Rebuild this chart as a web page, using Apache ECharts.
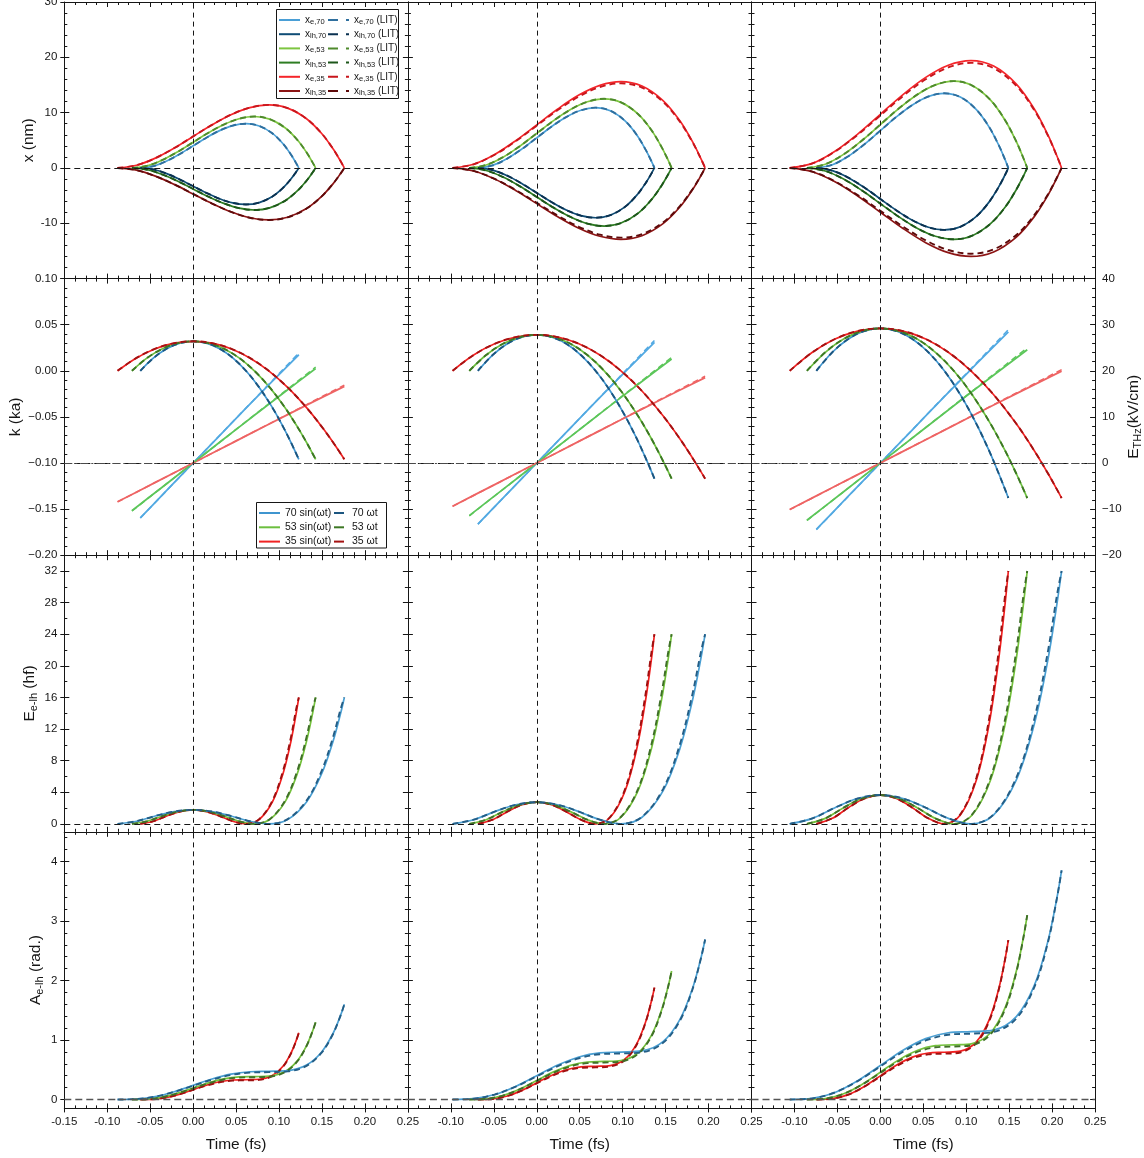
<!DOCTYPE html>
<html>
<head>
<meta charset="utf-8">
<title>Electron / light-hole trajectories in a THz field</title>
<script src="https://cdn.jsdelivr.net/npm/echarts@6/dist/echarts.min.js"></script>
<style>
html, body { margin: 0; padding: 0; background: #fff; }
#chart { width: 1144px; height: 1158px; }
</style>
</head>
<body>
<div id="chart"></div>
<script>
// ---------------- time samples (fs), one set per column and field strength ----------------
const t0_70 = [-0.0615, -0.0461, -0.0308, -0.0154, 0, 0.0154, 0.0308, 0.0461, 0.0615, 0.0769, 0.0923, 0.1046, 0.1138, 0.1199, 0.123];
const t0_53 = [-0.0713, -0.0535, -0.0357, -0.0178, 0, 0.0178, 0.0357, 0.0535, 0.0713, 0.0891, 0.107, 0.1212, 0.1319, 0.139, 0.1426];
const t0_35 = [-0.088, -0.066, -0.044, -0.022, 0, 0.022, 0.044, 0.066, 0.088, 0.11, 0.132, 0.1496, 0.1628, 0.1716, 0.176];
const t1_70 = [-0.0685, -0.0514, -0.0343, -0.0171, 0, 0.0171, 0.0343, 0.0514, 0.0685, 0.0856, 0.1028, 0.1165, 0.1267, 0.1336, 0.137];
const t1_53 = [-0.0785, -0.0589, -0.0393, -0.0196, 0, 0.0196, 0.0393, 0.0589, 0.0785, 0.0981, 0.1178, 0.1335, 0.1452, 0.1531, 0.157];
const t1_35 = [-0.098, -0.0735, -0.049, -0.0245, 0, 0.0245, 0.049, 0.0735, 0.098, 0.1225, 0.147, 0.1666, 0.1813, 0.1911, 0.196];
const t2_70 = [-0.0745, -0.0559, -0.0373, -0.0186, 0, 0.0186, 0.0373, 0.0559, 0.0745, 0.0931, 0.1118, 0.1267, 0.1378, 0.1453, 0.149];
const t2_53 = [-0.0855, -0.0641, -0.0428, -0.0214, 0, 0.0214, 0.0428, 0.0641, 0.0855, 0.1069, 0.1283, 0.1454, 0.1582, 0.1667, 0.171];
const t2_35 = [-0.1055, -0.0791, -0.0528, -0.0264, 0, 0.0264, 0.0528, 0.0791, 0.1055, 0.1319, 0.1583, 0.1794, 0.1952, 0.2057, 0.211];

// ---------------- row 1: positions x (nm) ----------------
const xe70_0  = [0, 0.34, 1.25, 2.53, 4.0, 5.47, 6.75, 7.66, 8.0, 7.59, 6.25, 4.38, 2.44, 0.87, 0];
const xlh70_0 = [0, -0.28, -1.03, -2.09, -3.3, -4.51, -5.57, -6.32, -6.6, -6.26, -5.15, -3.61, -2.01, -0.72, 0];
const xe53_0  = [0, 0.40, 1.45, 2.94, 4.65, 6.36, 7.85, 8.90, 9.3, 8.83, 7.26, 5.09, 2.84, 1.01, 0];
const xlh53_0 = [0, -0.33, -1.19, -2.40, -3.8, -5.20, -6.41, -7.27, -7.6, -7.21, -5.94, -4.16, -2.32, -0.83, 0];
const xe35_0  = [0, 0.49, 1.78, 3.60, 5.7, 7.80, 9.62, 10.91, 11.4, 10.82, 8.90, 6.24, 3.48, 1.24, 0];
const xlh35_0 = [0, -0.40, -1.47, -2.97, -4.7, -6.43, -7.93, -9.00, -9.4, -8.92, -7.34, -5.14, -2.87, -1.02, 0];

const xe70_1  = [0, 0.47, 1.70, 3.44, 5.45, 7.46, 9.20, 10.43, 10.9, 10.34, 8.51, 5.96, 3.32, 1.19, 0];
const xlh70_1 = [0, -0.39, -1.40, -2.84, -4.5, -6.16, -7.60, -8.61, -9.0, -8.54, -7.03, -4.92, -2.75, -0.98, 0];
const xe53_1  = [0, 0.54, 1.95, 3.95, 6.25, 8.55, 10.55, 11.96, 12.5, 11.86, 9.76, 6.84, 3.81, 1.36, 0];
const xlh53_1 = [0, -0.45, -1.64, -3.32, -5.25, -7.18, -8.86, -10.05, -10.5, -9.96, -8.20, -5.74, -3.20, -1.14, 0];
const xe35_1  = [0, 0.67, 2.43, 4.93, 7.8, 10.67, 13.17, 14.93, 15.6, 14.80, 12.18, 8.53, 4.76, 1.70, 0];
const xlh35_1 = [0, -0.55, -2.01, -4.08, -6.45, -8.82, -10.89, -12.35, -12.9, -12.24, -10.07, -7.06, -3.93, -1.41, 0];
const xe35L_1  = [0, 0.66, 2.39, 4.83, 7.65, 10.47, 12.91, 14.64, 15.3, 14.52, 11.95, 8.37, 4.67, 1.67, 0];
const xlh35L_1 = [0, -0.54, -1.97, -3.98, -6.3, -8.62, -10.63, -12.06, -12.6, -11.96, -9.84, -6.89, -3.84, -1.37, 0];

const xe70_2  = [0, 0.58, 2.11, 4.27, 6.75, 9.23, 11.39, 12.92, 13.5, 12.81, 10.54, 7.38, 4.12, 1.47, 0];
const xlh70_2 = [0, -0.48, -1.75, -3.54, -5.6, -7.66, -9.45, -10.72, -11.2, -10.63, -8.75, -6.13, -3.42, -1.22, 0];
const xe53_2  = [0, 0.68, 2.45, 4.96, 7.85, 10.74, 13.25, 15.02, 15.7, 14.90, 12.26, 8.59, 4.79, 1.71, 0];
const xlh53_2 = [0, -0.55, -2.01, -4.08, -6.45, -8.82, -10.89, -12.35, -12.9, -12.24, -10.07, -7.06, -3.93, -1.41, 0];
const xe35_2  = [0, 0.83, 3.03, 6.13, 9.7, 13.27, 16.37, 18.57, 19.4, 18.41, 15.15, 10.61, 5.92, 2.11, 0];
const xlh35_2 = [0, -0.69, -2.50, -5.06, -8.0, -10.94, -13.50, -15.31, -16.0, -15.18, -12.50, -8.75, -4.88, -1.74, 0];
const xe35L_2  = [0, 0.82, 2.96, 6.0, 9.5, 13.0, 16.04, 18.18, 19.0, 18.03, 14.84, 10.39, 5.80, 2.07, 0];
const xlh35L_2 = [0, -0.67, -2.42, -4.90, -7.75, -10.60, -13.08, -14.83, -15.5, -14.71, -12.11, -8.48, -4.73, -1.69, 0];

// ---------------- row 2: wave vector k (ka) and THz field (kV/cm) ----------------
const k_0 = [0, 0.014, 0.024, 0.030, 0.032, 0.030, 0.024, 0.014, 0, -0.018, -0.040, -0.0605, -0.0775, -0.0897, -0.096];
const k_1 = [0, 0.0171, 0.0293, 0.0366, 0.039, 0.0366, 0.0293, 0.0171, 0, -0.0219, -0.0488, -0.0737, -0.0945, -0.1093, -0.117];
const k_2 = [0, 0.0201, 0.0345, 0.0431, 0.046, 0.0431, 0.0345, 0.0201, 0, -0.0259, -0.0575, -0.0869, -0.1114, -0.1289, -0.138];

// field samples are taken at these entries of the time arrays
const fieldIdx = [0, 2, 4, 6, 8, 10, 14];
const eS70_0 = [-11.88, -5.96, 0, 5.96, 11.88, 17.74, 23.48];
const eW70_0 = [-11.93, -5.97, 0, 5.97, 11.93, 17.9, 23.86];
const eS53_0 = [-10.37, -5.19, 0, 5.19, 10.37, 15.47, 20.49];
const eW53_0 = [-10.41, -5.2, 0, 5.2, 10.41, 15.61, 20.82];
const eS35_0 = [-8.42, -4.21, 0, 4.21, 8.42, 12.56, 16.63];
const eW35_0 = [-8.45, -4.22, 0, 4.22, 8.45, 12.67, 16.9];
const eS70_1 = [-13.24, -6.63, 0, 6.63, 13.24, 19.75, 26.15];
const eW70_1 = [-13.29, -6.64, 0, 6.64, 13.29, 19.93, 26.58];
const eS53_1 = [-11.41, -5.72, 0, 5.72, 11.41, 17.04, 22.55];
const eW53_1 = [-11.46, -5.73, 0, 5.73, 11.46, 17.19, 22.92];
const eS35_1 = [-9.37, -4.69, 0, 4.69, 9.37, 13.98, 18.52];
const eW35_1 = [-9.41, -4.7, 0, 4.7, 9.41, 14.11, 18.82];
const eS70_2 = [-14.39, -7.21, 0, 7.21, 14.39, 21.48, 28.44];
const eW70_2 = [-14.45, -7.23, 0, 7.23, 14.45, 21.68, 28.9];
const eS53_2 = [-12.43, -6.23, 0, 6.23, 12.43, 18.55, 24.57];
const eW53_2 = [-12.48, -6.24, 0, 6.24, 12.48, 18.72, 24.97];
const eS35_2 = [-10.09, -5.05, 0, 5.05, 10.09, 15.05, 19.94];
const eW35_2 = [-10.13, -5.06, 0, 5.06, 10.13, 15.19, 20.26];

// ---------------- row 3: pair energy E_e-lh (hf) ----------------
const en_0  = [0, 0.34, 1.0, 1.56, 1.78, 1.56, 1.0, 0.34, 0, 0.56, 2.78, 6.35, 10.43, 13.96, 16];
const enL_0 = [0, 0.34, 1.0, 1.56, 1.78, 1.56, 1.0, 0.34, 0, 0.60, 2.95, 6.70, 10.95, 14.50, 16];
const en_1  = [0, 0.53, 1.55, 2.42, 2.75, 2.42, 1.55, 0.53, 0, 0.84, 4.17, 9.52, 15.65, 20.94, 24];
const enL_1 = [0, 0.53, 1.55, 2.42, 2.75, 2.42, 1.55, 0.53, 0, 0.90, 4.40, 10.05, 16.45, 21.75, 24];
const en_2  = [0, 0.70, 2.05, 3.21, 3.65, 3.21, 2.05, 0.70, 0, 1.13, 5.56, 12.70, 20.86, 27.93, 32];
const enL_2 = [0, 0.70, 2.05, 3.21, 3.65, 3.21, 2.05, 0.70, 0, 1.20, 5.85, 13.35, 21.90, 29.00, 32];

// ---------------- row 4: accumulated phase A_e-lh (rad.) ----------------
const aR_0  = [0, 0.005, 0.034, 0.091, 0.166, 0.241, 0.298, 0.327, 0.332, 0.340, 0.405, 0.559, 0.777, 0.989, 1.12];
const aRL_0 = [0, 0.005, 0.034, 0.090, 0.162, 0.233, 0.289, 0.317, 0.322, 0.330, 0.396, 0.551, 0.770, 0.987, 1.12];
const aG_0  = [0, 0.006, 0.040, 0.106, 0.193, 0.279, 0.345, 0.379, 0.385, 0.394, 0.470, 0.649, 0.901, 1.148, 1.30];
const aGL_0 = [0, 0.006, 0.040, 0.104, 0.188, 0.271, 0.335, 0.368, 0.374, 0.383, 0.460, 0.639, 0.894, 1.146, 1.30];
const aB_0  = [0, 0.008, 0.049, 0.130, 0.237, 0.344, 0.425, 0.466, 0.474, 0.485, 0.579, 0.799, 1.109, 1.413, 1.60];
const aBL_0 = [0, 0.008, 0.049, 0.129, 0.231, 0.333, 0.412, 0.452, 0.460, 0.472, 0.566, 0.787, 1.101, 1.410, 1.60];
const aR_1  = [0, 0.009, 0.058, 0.153, 0.279, 0.404, 0.499, 0.548, 0.557, 0.570, 0.680, 0.939, 1.304, 1.660, 1.88];
const aRL_1 = [0, 0.009, 0.058, 0.151, 0.272, 0.392, 0.484, 0.532, 0.540, 0.554, 0.665, 0.925, 1.293, 1.657, 1.88];
const aG_1  = [0, 0.010, 0.066, 0.176, 0.320, 0.464, 0.574, 0.630, 0.640, 0.655, 0.781, 1.079, 1.498, 1.907, 2.16];
const aGL_1 = [0, 0.010, 0.066, 0.173, 0.312, 0.450, 0.557, 0.611, 0.621, 0.637, 0.764, 1.062, 1.486, 1.904, 2.16];
const aB_1  = [0, 0.013, 0.083, 0.219, 0.399, 0.578, 0.715, 0.784, 0.797, 0.816, 0.973, 1.343, 1.865, 2.376, 2.69];
const aBL_1 = [0, 0.013, 0.083, 0.216, 0.389, 0.560, 0.693, 0.761, 0.773, 0.793, 0.952, 1.323, 1.850, 2.371, 2.69];
const aR_2  = [0, 0.013, 0.082, 0.219, 0.397, 0.576, 0.712, 0.781, 0.794, 0.813, 0.969, 1.338, 1.858, 2.367, 2.68];
const aRL_2 = [0, 0.013, 0.082, 0.215, 0.387, 0.558, 0.691, 0.758, 0.770, 0.790, 0.948, 1.318, 1.843, 2.362, 2.68];
const aG_2  = [0, 0.015, 0.095, 0.253, 0.459, 0.666, 0.823, 0.904, 0.919, 0.940, 1.121, 1.548, 2.150, 2.738, 3.10];
const aGL_2 = [0, 0.015, 0.095, 0.249, 0.448, 0.646, 0.799, 0.877, 0.891, 0.914, 1.097, 1.525, 2.132, 2.732, 3.10];
const aB_2  = [0, 0.018, 0.118, 0.314, 0.570, 0.827, 1.023, 1.122, 1.141, 1.167, 1.393, 1.923, 2.670, 3.400, 3.85];
const aBL_2 = [0, 0.018, 0.118, 0.309, 0.556, 0.802, 0.992, 1.089, 1.107, 1.135, 1.362, 1.894, 2.648, 3.393, 3.85];

// ---------------- tick values and labels ----------------
const timeTicks = [-0.15, -0.10, -0.05, 0, 0.05, 0.10, 0.15, 0.20, 0.25];
const xTicks = [-20, -10, 0, 10, 20, 30];
const xTickLabels = [-10, 0, 10, 20, 30];
const kTicks = [-0.20, -0.15, -0.10, -0.05, 0, 0.05, 0.10];
const enTicks = [0, 4, 8, 12, 16, 20, 24, 28, 32];
const aTicks = [0, 1, 2, 3, 4];
const thzTicks = [-20, -10, 0, 10, 20, 30, 40];

function steps(a, b, step) {
  const out = [];
  const n = Math.round((b - a) / step);
  for (let i = 0; i <= n; i++) out.push(+(a + i * step).toFixed(6));
  return out;
}
const timeMinor = steps(-0.15, 0.25, 0.0125);
const xMinor = steps(-20, 30, 2);
const kMinor = steps(-0.2, 0.1, 0.01);
const enMinor = steps(0, 34, 2);
const aMinor = steps(0, 4.4, 0.2);
const thzMinor = steps(-20, 40, 2);

// ---------------- styling ----------------
const FONT = '"Liberation Sans", Arial, Helvetica, sans-serif';
const INK = '#161616';
const GRID_LEFT = [64.3, 407.9, 751.5];
const GRID_TOP = [2, 278.6, 555.2, 831.8];
const GW = 343.6, GH = 276.6;

const C = {
  xe70: '#4a9fd6', xlh70: '#0f4c75', xe53: '#7dc540', xlh53: '#2e7d23', xe35: '#f5252a', xlh35: '#8c1414',
  xe70L: '#2f6f9e', xlh70L: '#0a3150', xe53L: '#4e8a2c', xlh53L: '#1d561a', xe35L: '#c8161c', xlh35L: '#5e0a0a',
  k70: '#3f95cf', k53: '#6cbf3f', k35: '#f02323', k70w: '#1c5680', k53w: '#3d7824', k35w: '#a51212',
  f70: '#52a9e2', f53: '#5cc65a', f35: '#ee6464',
  r: '#f21f1f', g: '#74c13c', b: '#4a9fd3', rL: '#9e1010', gL: '#3f6f28', bL: '#245e86'
};
const DASH = [6, 4];
const NAME_SIZE = 15.5;

const subRich = {
  m: { fontFamily: FONT, fontSize: NAME_SIZE, color: INK, lineHeight: 19 },
  s: { fontFamily: FONT, fontSize: 11, color: INK, lineHeight: 11, verticalAlign: 'bottom' }
};

const rowsDef = [
  { min: -20, max: 30, ticks: xTicks, minor: xMinor, labels: xTickLabels, fmt: v => String(v),
    name: '{m|x (nm)}', nameGap: 26 },
  { min: -0.2, max: 0.1, ticks: kTicks, minor: kMinor, labels: kTicks, fmt: v => v.toFixed(2).replace('-', '\u2212'),
    name: '{m|k (ka)}', nameGap: 39 },
  { min: -1, max: 34, ticks: enTicks, minor: enMinor, labels: enTicks, fmt: v => String(v),
    name: '{m|E}{s|e-lh}{m| (hf)}', nameGap: 25 },
  { min: -0.15, max: 4.5, ticks: aTicks, minor: aMinor, labels: aTicks, fmt: v => String(v),
    name: '{m|A}{s|e-lh}{m| (rad.)}', nameGap: 19 }
];
const thzDef = { min: -20, max: 40, ticks: thzTicks, minor: thzMinor, labels: thzTicks,
  fmt: v => String(v).replace('-', '\u2212') };

function axis(g, pos, def, opts) {
  const a = {
    type: 'value', gridIndex: g, position: pos, min: def.min, max: def.max, offset: 0,
    axisLine: { show: opts.line, onZero: false, lineStyle: { color: INK, width: 1 } },
    axisTick: { show: true, inside: opts.outside ? false : true, length: opts.len, customValues: opts.ticks,
      lineStyle: { color: INK, width: 1 } },
    axisLabel: { show: false },
    splitLine: { show: false },
    axisPointer: { show: false }
  };
  if (opts.labels) {
    a.axisLabel = { show: true, customValues: opts.labels, formatter: def.fmt, fontFamily: FONT,
      fontSize: 11.5, color: INK, margin: 7 };
  }
  if (opts.name) {
    a.name = opts.name;
    a.nameLocation = 'middle';
    a.nameGap = opts.nameGap;
    if (opts.rotate !== undefined) a.nameRotate = opts.rotate;
    a.nameTextStyle = { fontFamily: FONT, fontSize: NAME_SIZE, color: INK, rich: subRich };
  }
  return a;
}

const timeDef = { min: -0.15, max: 0.25, fmt: v => v.toFixed(2) };

const grids = [], xAxes = [], yAxes = [], series = [];

for (let r = 0; r < 4; r++) {
  for (let c = 0; c < 3; c++) {
    const g = r * 3 + c;
    grids.push({ left: GRID_LEFT[c], top: GRID_TOP[r], width: GW, height: GH, containLabel: false, outerBoundsMode: 'none' });
    const bottomLabels = r === 3 ? (c === 0 ? timeTicks : timeTicks.slice(1)) : null;
    xAxes.push(axis(g, 'bottom', timeDef, { line: true, len: 5, ticks: timeTicks, labels: bottomLabels,
      name: r === 3 ? '{m|Time (fs)}' : null, nameGap: 27 }));
    xAxes.push(axis(g, 'bottom', timeDef, { line: false, len: 3, ticks: timeMinor }));
    xAxes.push(axis(g, 'top', timeDef, { line: true, len: 5, ticks: timeTicks }));
    xAxes.push(axis(g, 'top', timeDef, { line: false, len: 3, ticks: timeMinor }));

    const d = rowsDef[r];
    yAxes.push(axis(g, 'left', d, { line: true, len: 5, ticks: d.ticks, labels: c === 0 ? d.labels : null,
      name: c === 0 ? d.name : null, nameGap: d.nameGap, rotate: 90 }));
    yAxes.push(axis(g, 'left', d, { line: false, len: 3, ticks: d.minor }));
    const rd = r === 1 ? thzDef : d;
    const rightName = (r === 1 && c === 2) ? '{m|E}{s|THz}{m|(kV/cm)}' : null;
    yAxes.push(axis(g, 'right', rd, { line: true, len: 5, ticks: rd.ticks,
      labels: (r === 1 && c === 2) ? rd.labels : null, name: rightName, nameGap: 29, rotate: 90 }));
    yAxes.push(axis(g, 'right', rd, { line: false, len: 3, ticks: rd.minor }));
  }
}
// outward major ticks along the outer left and bottom edges
for (let r = 0; r < 4; r++) {
  yAxes.push(axis(r * 3, 'left', rowsDef[r], { line: false, len: 4, ticks: rowsDef[r].ticks, outside: true }));
}
for (let c = 0; c < 3; c++) {
  xAxes.push(axis(9 + c, 'bottom', timeDef, { line: false, len: 4, ticks: timeTicks, outside: true }));
}

function pairs(t, v) { return v.map((y, i) => [t[i], y]); }
function pick(t, idx) { return idx.map(i => t[i]); }

function curve(g, name, t, v, color, dashed, opts) {
  opts = opts || {};
  return {
    type: 'line', name: name, xAxisIndex: g * 4, yAxisIndex: g * 4 + (opts.right ? 2 : 0),
    data: pairs(t, v), showSymbol: false, symbol: 'none', smooth: opts.smooth === undefined ? 0.35 : opts.smooth,
    silent: true, z: dashed ? 4 : 3,
    lineStyle: { color: color, width: opts.width || (dashed ? 1.9 : 1.7), type: dashed ? DASH : 'solid' },
    itemStyle: { color: color }
  };
}

function guides(r) {
  const vert = { xAxis: 0, lineStyle: { color: INK, type: [5, 4], width: 1 } };
  const data = [vert];
  if (r === 0 || r === 2) data.push({ yAxis: 0, lineStyle: { color: INK, type: [6, 4], width: 1 } });
  if (r === 1) {
    data.push({ yAxis: 0, lineStyle: { color: INK, type: [6, 4], width: 1 } });
    data.push({ yAxis: -0.1, lineStyle: { color: '#4a4a4a', type: [8, 3, 2, 3], width: 1.2 } });
  }
  if (r === 3) data.push({ yAxis: 0, lineStyle: { color: '#555', type: [7, 4], width: 1.3 } });
  return { silent: true, symbol: ['none', 'none'], label: { show: false }, animation: false, data: data };
}

const T = [[t0_70, t0_53, t0_35], [t1_70, t1_53, t1_35], [t2_70, t2_53, t2_35]];
const X = [
  [xe70_0, xlh70_0, xe53_0, xlh53_0, xe35_0, xlh35_0],
  [xe70_1, xlh70_1, xe53_1, xlh53_1, xe35_1, xlh35_1],
  [xe70_2, xlh70_2, xe53_2, xlh53_2, xe35_2, xlh35_2]
];
const XL = [
  [xe70_0, xlh70_0, xe53_0, xlh53_0, xe35_0, xlh35_0],
  [xe70_1, xlh70_1, xe53_1, xlh53_1, xe35L_1, xlh35L_1],
  [xe70_2, xlh70_2, xe53_2, xlh53_2, xe35L_2, xlh35L_2]
];
const K = [k_0, k_1, k_2];
const FS = [[eS70_0, eS53_0, eS35_0], [eS70_1, eS53_1, eS35_1], [eS70_2, eS53_2, eS35_2]];
const FW = [[eW70_0, eW53_0, eW35_0], [eW70_1, eW53_1, eW35_1], [eW70_2, eW53_2, eW35_2]];
const EN = [en_0, en_1, en_2], ENL = [enL_0, enL_1, enL_2];
const A = [[aR_0, aG_0, aB_0], [aR_1, aG_1, aB_1], [aR_2, aG_2, aB_2]];
const AL = [[aRL_0, aGL_0, aBL_0], [aRL_1, aGL_1, aBL_1], [aRL_2, aGL_2, aBL_2]];

const xNames = ['xe70', 'xlh70', 'xe53', 'xlh53', 'xe35', 'xlh35'];
const fields = ['70', '53', '35'];

for (let c = 0; c < 3; c++) {
  const tt = T[c];
  // row 1: trajectories
  let g = c;
  xNames.forEach((n, i) => {
    const s = curve(g, n, tt[Math.floor(i / 2)], X[c][i], C[n], false);
    if (i === 0) s.markLine = guides(0);
    series.push(s);
  });
  xNames.forEach((n, i) => series.push(curve(g, n + 'L', tt[Math.floor(i / 2)], XL[c][i], C[n + 'L'], true)));

  // row 2: THz field lines (right scale) and k(t)
  g = 3 + c;
  fields.forEach((f, i) => {
    const s = curve(g, 'E' + f, pick(tt[i], fieldIdx), FS[c][i], C['f' + f], false, { right: true, smooth: 0.2, width: 1.8 });
    if (i === 0) s.markLine = guides(1);
    series.push(s);
  });
  fields.forEach((f, i) => series.push(curve(g, 'E' + f + 'w', pick(tt[i], fieldIdx), FW[c][i], C['f' + f], true, { right: true, smooth: 0.2, width: 1.5 })));
  fields.forEach((f, i) => series.push(curve(g, f + ' sin(\u03c9t)', tt[i], K[c], C['k' + f], false)));
  fields.forEach((f, i) => series.push(curve(g, f + ' \u03c9t', tt[i], K[c], C['k' + f + 'w'], true)));

  // row 3: energy; row 4: phase (red on the shortest, blue on the longest time window)
  const cols = ['r', 'g', 'b'];
  g = 6 + c;
  cols.forEach((k, i) => {
    const s = curve(g, 'en' + k, tt[i], EN[c], C[k], false);
    if (i === 0) s.markLine = guides(2);
    series.push(s);
  });
  cols.forEach((k, i) => series.push(curve(g, 'en' + k + 'L', tt[i], ENL[c], C[k + 'L'], true)));
  g = 9 + c;
  cols.forEach((k, i) => {
    const s = curve(g, 'a' + k, tt[i], A[c][i], C[k], false);
    if (i === 0) s.markLine = guides(3);
    series.push(s);
  });
  cols.forEach((k, i) => series.push(curve(g, 'a' + k + 'L', tt[i], AL[c][i], C[k + 'L'], true)));
}

// ---------------- legends ----------------
const legendText = {
  xe70: '{m|x}{s|e,70}', xlh70: '{m|x}{s|lh,70}', xe53: '{m|x}{s|e,53}', xlh53: '{m|x}{s|lh,53}',
  xe35: '{m|x}{s|e,35}', xlh35: '{m|x}{s|lh,35}'
};
xNames.forEach(n => { legendText[n + 'L'] = legendText[n] + '{m| (LIT)}'; });
const legendRich = {
  m: { fontFamily: FONT, fontSize: 10, color: INK, lineHeight: 12 },
  s: { fontFamily: FONT, fontSize: 7.5, color: INK, lineHeight: 8, verticalAlign: 'bottom' }
};
// the line icons carry no marker
const noMarker = { color: 'rgba(0,0,0,0)', borderColor: 'rgba(0,0,0,0)', borderWidth: 0, opacity: 0 };
function legend(left, top, w, names, gap, rich, dashed) {
  const l = {
    orient: 'vertical', left: left, top: top, itemWidth: w, itemHeight: 12, itemGap: gap,
    padding: 0, selectedMode: false, data: names, itemStyle: noMarker,
    textStyle: { fontFamily: FONT, fontSize: 10.5, color: INK, lineHeight: 12 }
  };
  if (dashed) l.lineStyle = { type: [10, 8], width: 2 };
  if (rich) {
    l.formatter = n => legendText[n];
    l.textStyle.rich = legendRich;
  }
  return l;
}
const legends = [
  legend(278, 14, 21, xNames, 2.2, true, false),
  legend(327, 14, 21, xNames.map(n => n + 'L'), 2.2, true, true),
  legend(258, 507, 21, fields.map(f => f + ' sin(\u03c9t)'), 2.3, false, false),
  legend(333, 507, 13, fields.map(f => f + ' \u03c9t'), 2.3, false, true)
];

const chart = echarts.init(document.getElementById('chart'), null, { renderer: 'canvas' });
chart.setOption({
  animation: false,
  backgroundColor: '#ffffff',
  textStyle: { fontFamily: FONT },
  grid: grids,
  xAxis: xAxes,
  yAxis: yAxes,
  legend: legends,
  series: series,
  graphic: [
    { type: 'rect', silent: true, z: 100, shape: { x: 276.5, y: 9.5, width: 122, height: 89 },
      style: { fill: 'transparent', stroke: INK, lineWidth: 1 } },
    { type: 'rect', silent: true, z: 100, shape: { x: 256.5, y: 502.5, width: 130, height: 45.5 },
      style: { fill: 'transparent', stroke: INK, lineWidth: 1 } }
  ]
});
</script>
</body>
</html>
